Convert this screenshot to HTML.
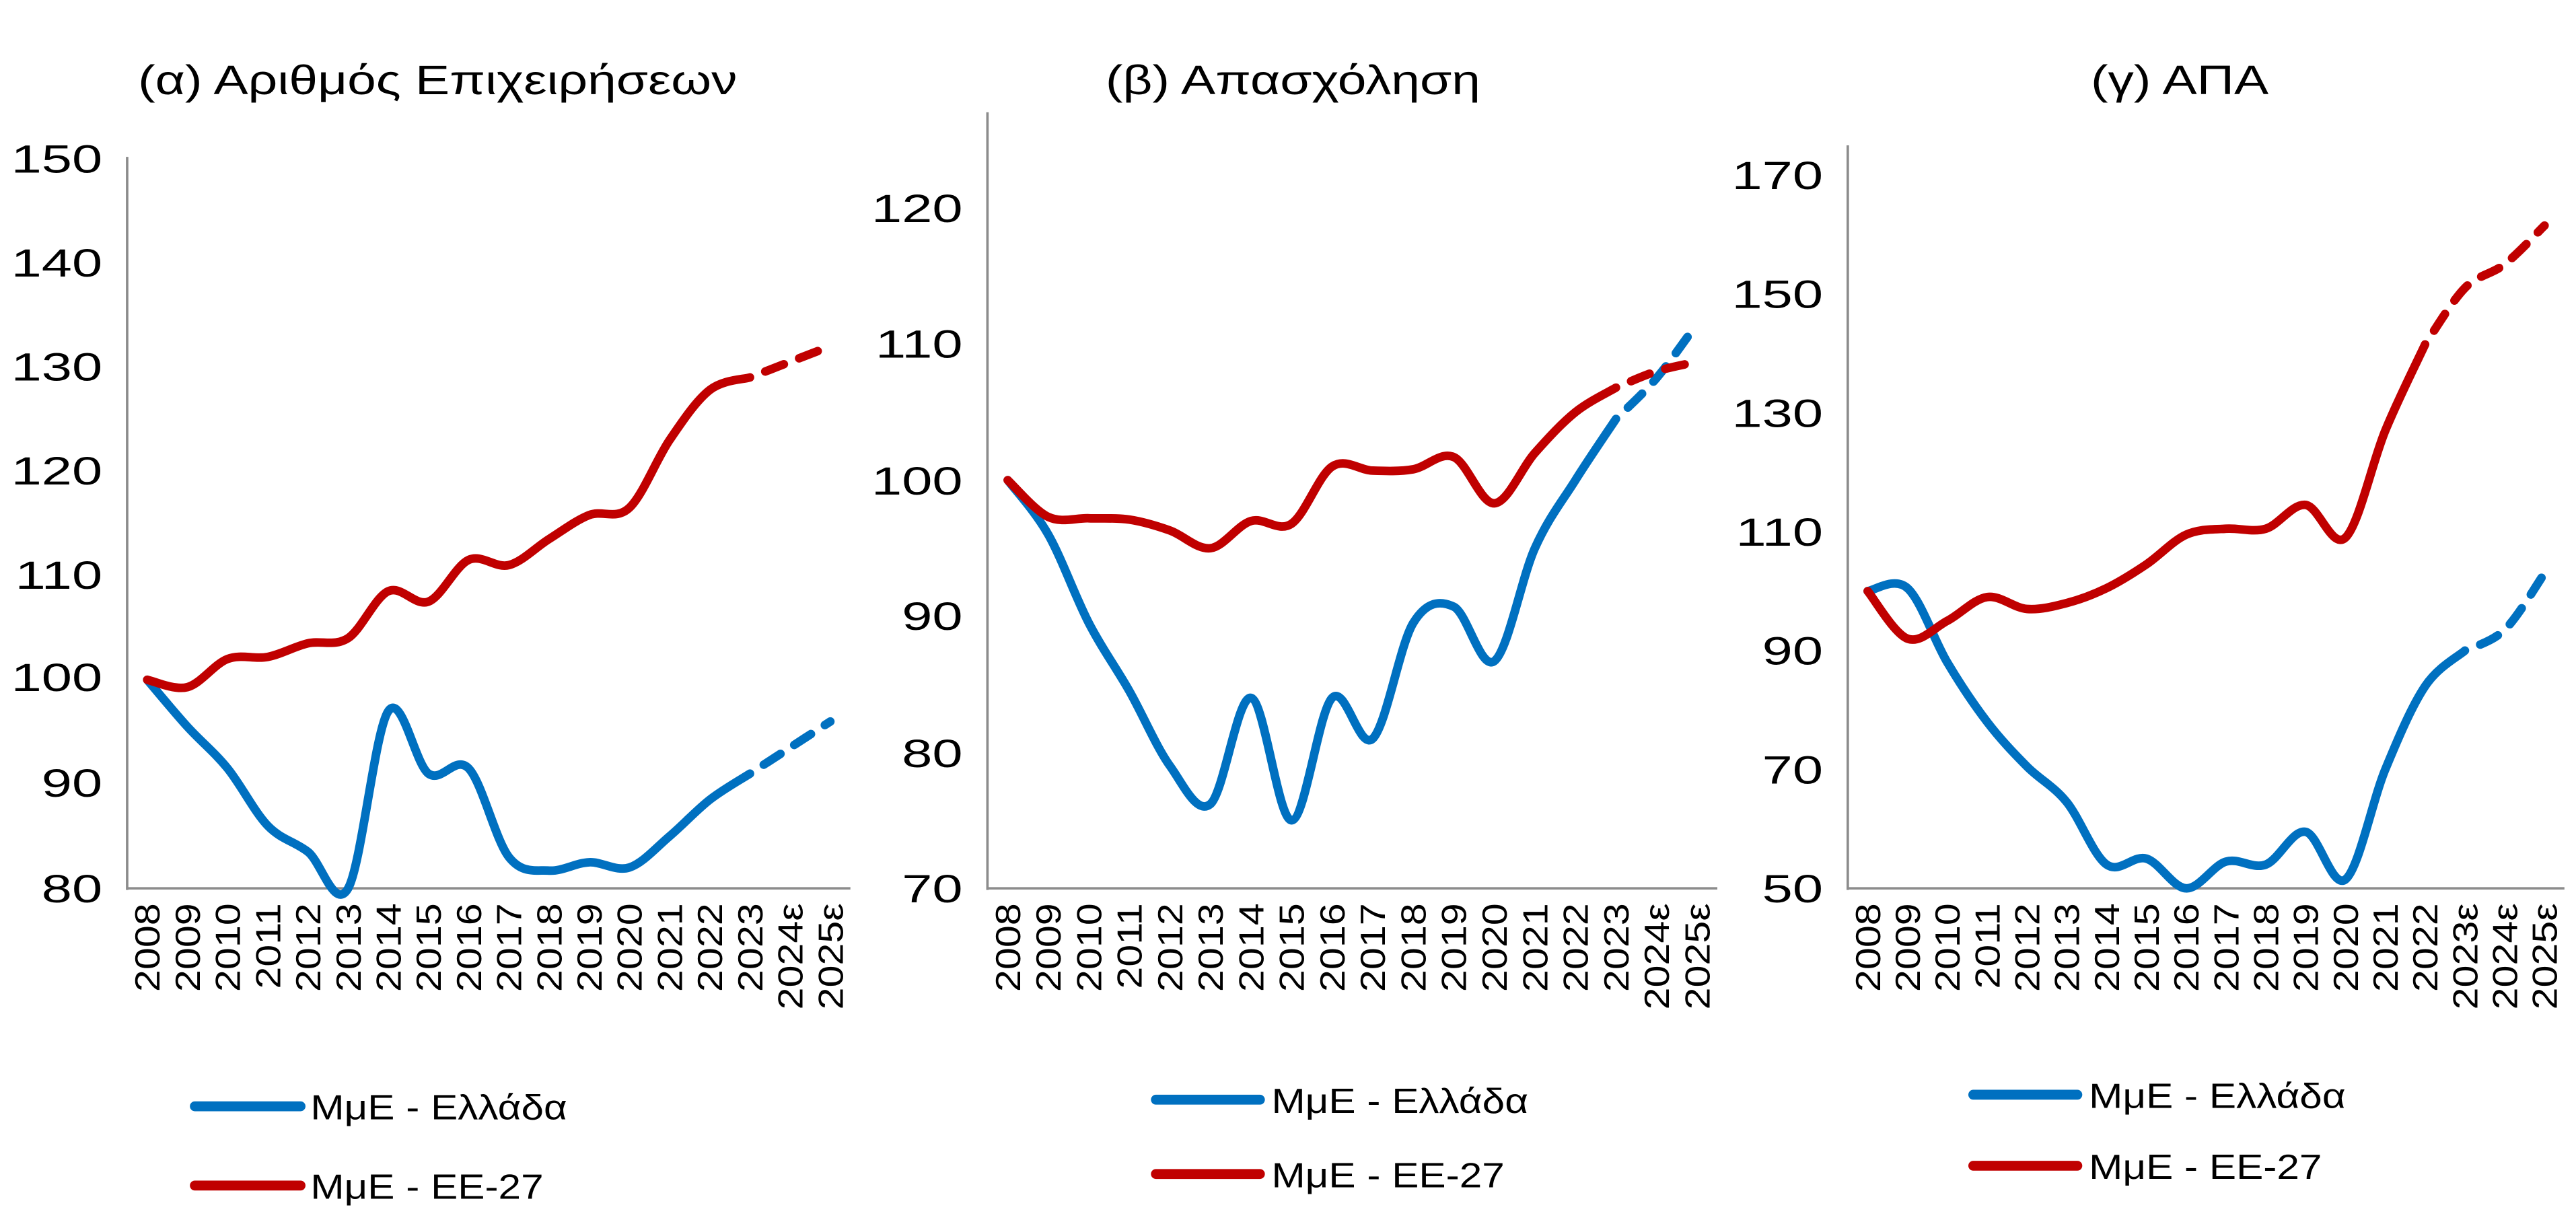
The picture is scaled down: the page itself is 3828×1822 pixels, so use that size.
<!DOCTYPE html>
<html><head><meta charset="utf-8">
<style>
html,body{margin:0;padding:0;background:#fff;}
svg{display:block;}
text{font-family:"Liberation Sans","DejaVu Sans",sans-serif;fill:#000;}
</style></head>
<body>
<svg id="s" width="3828" height="1822" viewBox="0 0 1560 742.5" preserveAspectRatio="none" xmlns="http://www.w3.org/2000/svg"></svg>
<script>
const NS="http://www.w3.org/2000/svg";
const S=document.getElementById('s');
function el(t,a,txt){const e=document.createElementNS(NS,t);for(const k in a)e.setAttribute(k,a[k]);if(txt!==undefined)e.textContent=txt;S.appendChild(e);return e;}
function path(pts){
  let d=`M${pts[0][0]},${pts[0][1]}`;
  for(let i=0;i<pts.length-1;i++){
    const p0=pts[Math.max(0,i-1)],p1=pts[i],p2=pts[i+1],p3=pts[Math.min(pts.length-1,i+2)];
    const t=1/6;
    const c1=[p1[0]+(p2[0]-p0[0])*t,p1[1]+(p2[1]-p0[1])*t];
    const c2=[p2[0]-(p3[0]-p1[0])*t,p2[1]-(p3[1]-p1[1])*t];
    d+=` C${c1[0]},${c1[1]} ${c2[0]},${c2[1]} ${p2[0]},${p2[1]}`;
  }
  return d;
}
const P=[
 {title:"(α) Αριθμός Επιχειρήσεων",tx:265,ax:77,top:95,bot:538,right:515,
  ticks:[150,140,130,120,110,100,90,80],
  labels:["2008","2009","2010","2011","2012","2013","2014","2015","2016","2017","2018","2019","2020","2021","2022","2023","2024ε","2025ε"],
  g:[100,95.5,91.5,86,83.5,80,97,91,91.5,83,81.7,82.5,82,85,88.5,91,93.5,96],
  e:[100,99.3,102,102.2,103.5,104,108.5,107.5,111.5,111,113.5,115.8,116.5,123,127.8,129,130.5,132],
  leg:[118,182,188,670,718]},
 {title:"(β) Απασχόληση",tx:783,ax:598,top:68,bot:538,right:1040,
  ticks:[120,110,100,90,80,70],
  labels:["2008","2009","2010","2011","2012","2013","2014","2015","2016","2017","2018","2019","2020","2021","2022","2023","2024ε","2025ε"],
  g:[100,96,89.5,84.5,79,76.2,84,75,84,81,89.5,90.7,86.7,95,100,104.5,107.5,111.5],
  e:[100,97.3,97.2,97.1,96.3,95,97,96.8,101,100.7,100.8,101.7,98.3,102,105,106.8,108,108.7],
  leg:[700,763,770,666,711]},
 {title:"(γ) ΑΠΑ",tx:1320,ax:1119,top:88,bot:538,right:1553,
  ticks:[170,150,130,110,90,70,50],
  labels:["2008","2009","2010","2011","2012","2013","2014","2015","2016","2017","2018","2019","2020","2021","2022","2023ε","2024ε","2025ε"],
  g:[100,100.5,88,78,70.5,64.5,54,55,50,54.5,54,59.5,51.5,70,84,90,93.5,103],
  e:[100,92,95,99,97,98,100.5,104.5,109.5,110.5,110.5,114.5,109,127,141.5,151,155,161.5],
  leg:[1195,1258,1265,663,706]}
];
const tickPos=[
 {150:96,140:159,130:222,120:285,110:348,100:410,90:474,80:538},
 {120:126,110:208,100:291,90:373,80:456,70:538},
 {170:106,150:178,130:250,110:322,90:394,70:466,50:538}
];
function stext(x,y,size,sx,anchor,str,rot){
  let tr=`translate(${x},${y})`+(rot?` rotate(${rot})`:'')+` scale(${sx},1)`;
  if(rot) tr=`translate(${x},${y}) rotate(${rot}) scale(1,1)`;
  return el('text',{transform:tr,'font-size':size,'text-anchor':anchor},str);
}
P.forEach((p,i)=>{
  const tp=tickPos[i];
  const hi=p.ticks[0],lo=p.ticks[p.ticks.length-1];
  const y=v=>tp[lo]+(v-lo)*(tp[hi]-tp[lo])/(hi-lo);
  const n=18,w=(p.right-p.ax)/n;
  const x=k=>p.ax+w*(k+0.5);
  el('text',{transform:`translate(${p.tx},57) scale(1.25,1)`,'font-size':25,'text-anchor':'middle'},p.title);
  p.ticks.forEach(t=>el('text',{transform:`translate(${p.ax-15},${tp[t]+8.5}) scale(1.38,1)`,'font-size':24,'text-anchor':'end'},String(t)));
  p.labels.forEach((l,k)=>{el('text',{transform:`translate(${x(k)+7.5},547) rotate(-90) scale(1.15,1)`,'font-size':21,'text-anchor':'end'},l);});
  el('line',{x1:p.ax,y1:p.top,x2:p.ax,y2:p.bot+1,stroke:'#8c8c8c','stroke-width':1.5});
  el('line',{x1:p.ax,y1:p.bot,x2:p.right,y2:p.bot,stroke:'#8c8c8c','stroke-width':1.5});
  [['g','#0070c0'],['e','#c00000']].forEach(([key,col])=>{
    const pts=p[key].map((v,k)=>[x(k),y(v)]);
    const ds=(i==2&&key=='e')?14:15;
    const solid=pts.slice(0,ds+1), dash=pts.slice(ds);
    el('path',{d:path(solid),fill:'none',stroke:col,'stroke-width':5.2,'stroke-linecap':'round','stroke-linejoin':'round'});
    el('path',{d:path(dash),fill:'none',stroke:col,'stroke-width':5.2,'stroke-linecap':'round','stroke-dasharray':'12 10','stroke-dashoffset':-10});
  });
  const L=p.leg;
  el('line',{x1:L[0],y1:L[3],x2:L[1],y2:L[3],stroke:'#0070c0','stroke-width':6,'stroke-linecap':'round'});
  el('line',{x1:L[0],y1:L[4],x2:L[1],y2:L[4],stroke:'#c00000','stroke-width':6,'stroke-linecap':'round'});
  el('text',{transform:`translate(${L[2]},${L[3]+8}) scale(1.17,1)`,'font-size':21},'ΜμΕ - Ελλάδα');
  el('text',{transform:`translate(${L[2]},${L[4]+8}) scale(1.17,1)`,'font-size':21},'ΜμΕ - ΕΕ-27');
});
</script>
</body></html>
